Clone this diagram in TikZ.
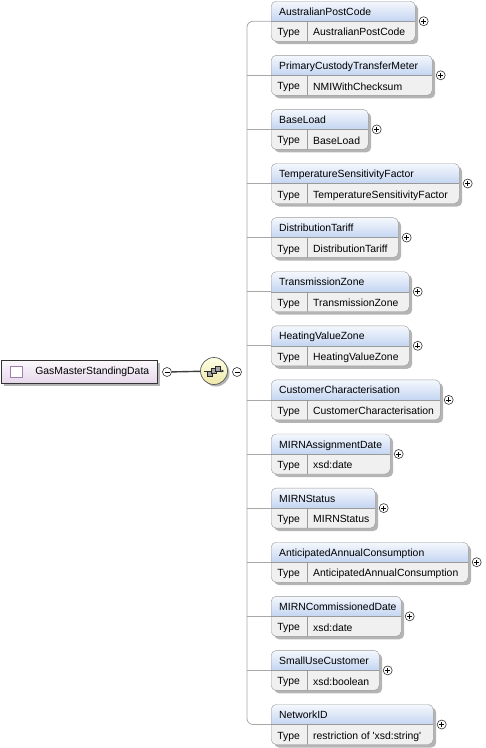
\documentclass[tikz,border=0pt]{standalone}
\usepackage{fontspec}
\setmainfont{Liberation Sans}
\usetikzlibrary{shadows,arrows.meta}
\definecolor{hdrtop}{HTML}{F5F8FD}
\definecolor{hdrbot}{HTML}{C5D6F2}
\definecolor{rowgray}{HTML}{F0F0F0}
\definecolor{boxline}{HTML}{9A9A9A}
\definecolor{shadowgray}{HTML}{B4B4B4}
\definecolor{busline}{HTML}{A8A8A8}
\definecolor{roottop}{HTML}{FCF8FC}
\definecolor{rootbot}{HTML}{E6D8EA}
\definecolor{iconline}{HTML}{A47CB4}
\definecolor{seqtop}{HTML}{FFFFE6}
\definecolor{seqbot}{HTML}{EEE8A8}
\pgfdeclareverticalshading{elshade}{100bp}{color(0bp)=(rowgray); color(50bp)=(rowgray); color(50.5bp)=(hdrbot); color(75bp)=(hdrtop); color(100bp)=(hdrtop)}

\begin{document}
\begin{tikzpicture}[x=1pt, y=-1pt, every node/.style={font=\fontsize{10.4}{12}\selectfont},
  elbox/.style 2 args={anchor=north west, draw=boxline, rounded corners=5pt, shading=elshade, drop shadow={shadow xshift=3pt, shadow yshift=-3pt, fill=shadowgray, opacity=1}, inner xsep=8pt, inner ysep=3pt, text width=#2-16, align=left, text height=11pt, text depth=23pt, path picture={\draw[boxline] (path picture bounding box.west) -- (path picture bounding box.east) ([xshift=36pt]path picture bounding box.south west) -- ([xshift=36pt]path picture bounding box.west); \node[anchor=base west, inner sep=0pt] (typekey) at ([xshift=6pt, yshift=5.5pt]path picture bounding box.south west) {Type};}, label={[typeval]south west:{#1}}, label={[expander]east:{}}},
  typeval/.style={anchor=base west, inner sep=0pt, xshift=42pt, yshift=5.5pt},
  expander/.style={circle, draw=black!80, line width=0.6pt, fill=white, minimum size=9pt, inner sep=0pt, xshift=3.5pt, path picture={\draw[black, line width=0.6pt] ([xshift=-2.5pt]path picture bounding box.center) -- ([xshift=2.5pt]path picture bounding box.center) ([yshift=-2.5pt]path picture bounding box.center) -- ([yshift=2.5pt]path picture bounding box.center);}},
  collapser/.style={circle, draw=black!80, line width=0.6pt, fill=white, minimum size=9pt, inner sep=0pt, path picture={\draw[black, line width=0.6pt] ([xshift=-2.5pt]path picture bounding box.center) -- ([xshift=2.5pt]path picture bounding box.center);}},
  rootbox/.style={anchor=west, draw=black!80, top color=roottop, bottom color=rootbot, minimum height=23pt, text width=140pt, inner xsep=8pt, align=right, drop shadow={shadow xshift=3pt, shadow yshift=-3pt, fill=shadowgray, opacity=1}, label={[rooticon]west:{}}},
  rooticon/.style={anchor=west, xshift=9pt, rectangle, draw=iconline, line width=0.7pt, fill=white, minimum width=12pt, minimum height=11pt, inner sep=0pt},
  seqnode/.style={circle, minimum size=27pt, draw=black!65, line width=0.7pt, top color=seqtop, bottom color=seqbot, drop shadow={shadow xshift=2pt, shadow yshift=-2pt, fill=shadowgray, opacity=1}, path picture={\draw[black!80, line width=0.7pt, -{Triangle[length=2.5pt, width=3pt]}] ([xshift=-10pt]path picture bounding box.center) -- ([xshift=10pt]path picture bounding box.center); \foreach \d in {-4,0,4} \filldraw[fill=black!35, draw=black!85, line width=0.5pt] ([shift={(\d pt-2.5pt,0.6*\d pt-2.5pt)}]path picture bounding box.center) rectangle ++(5pt,5pt);}},
  conn/.style={draw=busline, line width=0.8pt},
  rootlink/.style={draw=black!75, line width=1.4pt}]
\useasboundingbox (0,0) rectangle (486,748);
% root element and its sequence
\node[rootbox] (gmsd) at (1,371.5) {GasMasterStandingData};
\node[collapser] (gmsdminus) at (167,372) {};
\node[seqnode] (seq) at (214,371) {};
\draw[rootlink] (gmsdminus) -- (seq);
\node[collapser] (seqminus) at (237,372) {};
\coordinate (bus) at (247,372);
% child elements
\node[elbox={AustralianPostCode}{144}] (apc) at (271,1) {AustralianPostCode};
\node[elbox={NMIWithChecksum}{161}] (pctm) at (271,55.1) {PrimaryCustodyTransferMeter};
\draw[conn] (pctm.west) -- (pctm.west -| bus);
\node[elbox={BaseLoad}{97}] (bload) at (271,109.2) {BaseLoad};
\draw[conn] (bload.west) -- (bload.west -| bus);
\node[elbox={TemperatureSensitivityFactor}{188}] (tsf) at (271,163.3) {TemperatureSensitivityFactor};
\draw[conn] (tsf.west) -- (tsf.west -| bus);
\node[elbox={DistributionTariff}{127}] (dtariff) at (271,217.4) {DistributionTariff};
\draw[conn] (dtariff.west) -- (dtariff.west -| bus);
\node[elbox={TransmissionZone}{138}] (tzone) at (271,271.5) {TransmissionZone};
\draw[conn] (tzone.west) -- (tzone.west -| bus);
\node[elbox={HeatingValueZone}{138}] (hvzone) at (271,325.6) {HeatingValueZone};
\draw[conn] (hvzone.west) -- (hvzone.west -| bus);
\node[elbox={CustomerCharacterisation}{169}] (custchar) at (271,379.7) {CustomerCharacterisation};
\draw[conn] (custchar.west) -- (custchar.west -| bus);
\node[elbox={xsd:date}{119}] (mirnad) at (271,433.8) {MIRNAssignmentDate};
\draw[conn] (mirnad.west) -- (mirnad.west -| bus);
\node[elbox={MIRNStatus}{104}] (mirnst) at (271,487.9) {MIRNStatus};
\draw[conn] (mirnst.west) -- (mirnst.west -| bus);
\node[elbox={AnticipatedAnnualConsumption}{197}] (aac) at (271,542) {AnticipatedAnnualConsumption};
\draw[conn] (aac.west) -- (aac.west -| bus);
\node[elbox={xsd:date}{130}] (mirncd) at (271,596.1) {MIRNCommissionedDate};
\draw[conn] (mirncd.west) -- (mirncd.west -| bus);
\node[elbox={xsd:boolean}{108}] (suc) at (271,650.2) {SmallUseCustomer};
\draw[conn] (suc.west) -- (suc.west -| bus);
\node[elbox={restriction of \textquotesingle xsd:string\textquotesingle}{162}] (nid) at (271,704.3) {NetworkID};
\draw[conn, rounded corners=6pt] (apc.west) -| (bus) |- (nid.west);
\end{tikzpicture}
\end{document}
